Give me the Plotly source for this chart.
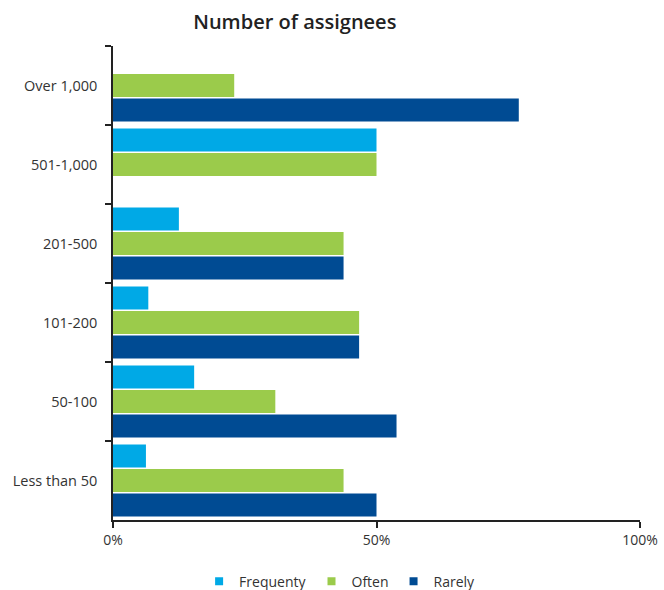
import plotly.graph_objects as go

categories = ["Over 1,000", "501-1,000", "201-500", "101-200", "50-100", "Less than 50"]
frequently = [0, 50, 12.5, 6.7, 15.4, 6.25]
often = [23, 50, 43.75, 46.7, 30.8, 43.75]
rarely = [77, 0, 43.75, 46.7, 53.8, 50]
series_names = ["Frequenty", "Often", "Rarely"]
colors = ["#00A9E6", "#9BCB4B", "#004B93"]
x_ticks = [0, 50, 100]
x_tick_labels = ["0%", "50%", "100%"]

fig = go.Figure()
for name, vals, col in zip(series_names, [frequently, often, rarely], colors):
    fig.add_trace(go.Bar(
        y=categories, x=vals, name=name, orientation="h",
        marker=dict(color=col, line=dict(width=0)), showlegend=False,
    ))
for name, col in zip(series_names, colors):
    fig.add_trace(go.Scatter(
        x=[None], y=[None], mode="markers", name=name,
        marker=dict(symbol="square", size=8, color=col),
    ))

fig.update_layout(
    width=664, height=590,
    margin=dict(l=113, r=24, t=46, b=70, autoexpand=False),
    paper_bgcolor="white", plot_bgcolor="white",
    barmode="group", bargap=0.07, bargroupgap=0.06,
    font=dict(family="Open Sans, Noto Sans, sans-serif", size=14, color="#333333"),
    title=dict(text="Number of assignees", x=0.444, xanchor="center", y=0.962, yanchor="middle",
               font=dict(size=20, color="#222222", weight=600)),
    showlegend=True,
    legend=dict(orientation="h", x=0.43, xanchor="center", y=-0.13, yanchor="middle",
                font=dict(size=14, color="#333333"), itemwidth=30, traceorder="normal",
                tracegroupgap=0),
    xaxis=dict(range=[0, 100], tickvals=x_ticks, ticktext=x_tick_labels,
               showline=True, linecolor="#222222", linewidth=1.5, automargin=False,
               ticks="outside", ticklen=6, tickcolor="#222222", tickwidth=1.5,
               showgrid=False, zeroline=False, tickfont=dict(size=14)),
    yaxis=dict(autorange="reversed", showline=True, linecolor="#222222", linewidth=1.5,
               ticks="outside", ticklen=6, tickcolor="#222222", tickwidth=1.5, automargin=False,
               tickson="boundaries", showgrid=False, zeroline=False,
               ticklabelstandoff=11, tickfont=dict(size=14.5)),
)

fig.write_html("out.html", config={"displayModeBar": False},
               post_script="document.body.style.margin='0';")
